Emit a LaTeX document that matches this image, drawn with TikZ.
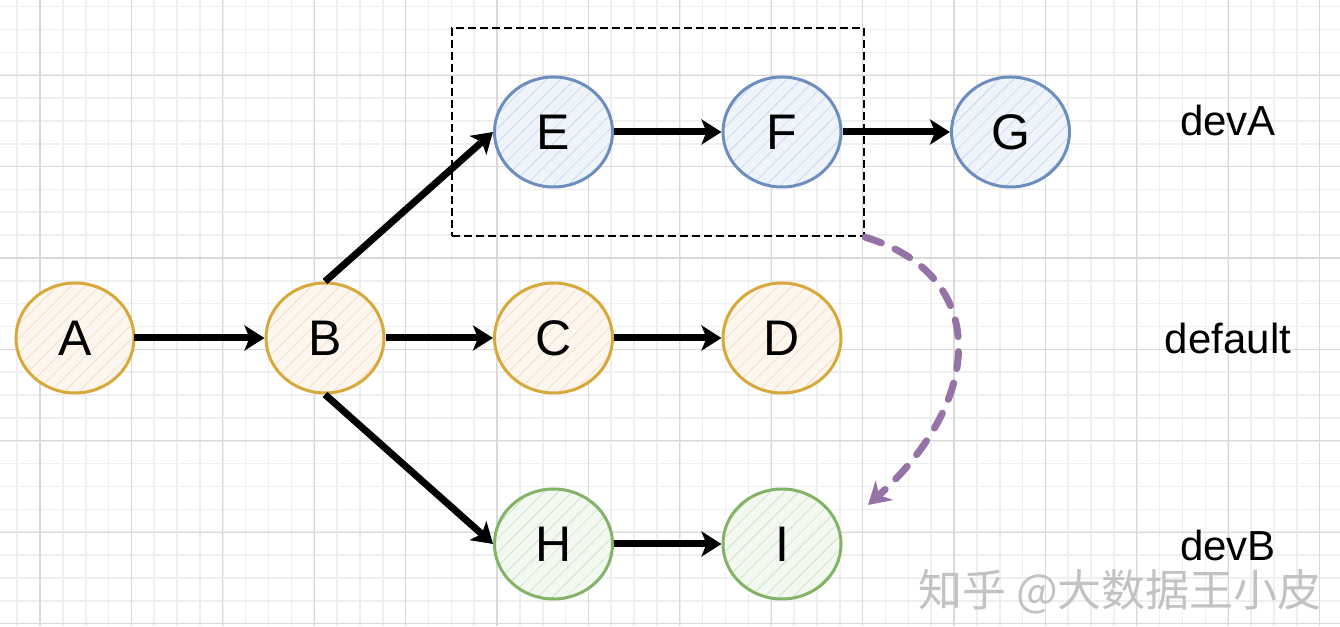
\documentclass[tikz,border=0pt]{standalone}
\usepackage{fontspec}
\setmainfont{Liberation Sans}
\newfontfamily\cjk{Noto Sans CJK SC}
\usetikzlibrary{positioning, arrows.meta, shapes.geometric, patterns.meta}

\definecolor{gridmaj}{HTML}{D9D9D9}
\definecolor{gridmin}{HTML}{EFEFEF}
\definecolor{gold}{HTML}{D6A93A}
\definecolor{goldfill}{HTML}{FDF6EE}
\definecolor{goldhatch}{HTML}{F2DEC6}
\definecolor{steel}{HTML}{6C8EBF}
\definecolor{steelfill}{HTML}{EFF4FB}
\definecolor{steelhatch}{HTML}{C9D8EE}
\definecolor{leaf}{HTML}{82B366}
\definecolor{leaffill}{HTML}{F3F8F0}
\definecolor{leafhatch}{HTML}{CFE3C6}
\definecolor{lilac}{HTML}{9673A6}
\definecolor{stampgray}{HTML}{C2C2C2}

\tikzset{
  commit/.style={ellipse, minimum width=118pt, minimum height=110pt, inner sep=0pt,
    line width=3pt, draw=#1, preaction={fill=#1fill},
    pattern={Lines[angle=45, distance=10pt, line width=0.8pt]}, pattern color=#1hatch,
    font=\fontsize{50}{60}\selectfont},
  branch/.style={font=\fontsize{42}{50}\selectfont},
  link/.style={line width=7pt, -{Stealth[length=20pt, width=25pt, inset=5pt]}},
  group/.style={draw, line width=2.5pt, dash pattern=on 8pt off 4pt,
    minimum width=412pt, minimum height=208pt},
  move/.style={draw=lilac, line width=7pt, line cap=round, dash pattern=on 17pt off 15pt,
    -{Stealth[length=22pt, width=26pt]}},
  stamp/.style={text=stampgray, font=\cjk\fontsize{44}{50}\selectfont}
}

\begin{document}
\begin{tikzpicture}[x=1pt, y=1pt, node distance=206pt and 228.5pt, on grid]
  \useasboundingbox (0,0) rectangle (1340,626);
  \fill[white] (0,0) rectangle (1340,626);
  \begin{scope}[shift={(40,2.4)}]
    \draw[gridmin, line width=1.6pt, step=22.85pt] (-40,-2.4) grid (1300,623.6);
    \draw[gridmaj, line width=1.1pt, step=91.4pt] (-40,-2.4) grid (1300,623.6);
  \end{scope}

  \node[commit=gold] (a) at (75,288) {A};
  \node[commit=gold] (b) [right=250pt of a] {B};
  \node[commit=gold] (c) [right=of b] {C};
  \node[commit=gold] (d) [right=of c] {D};
  \node[commit=steel] (e) [above=of c] {E};
  \node[commit=steel] (f) [above=of d] {F};
  \node[commit=steel] (g) [right=of f] {G};
  \node[commit=leaf] (h) [below=of c] {H};
  \node[commit=leaf] (i) [below=of d] {I};

  \node[branch] (la) at (1228,506) {devA};
  \node[branch] (ld) at (1228,288) {default};
  \node[branch] (lb) at (1228,81) {devB};

  \node[group] (grp) at (658,494) {};
  \coordinate (drop) at (868,121);

  \draw[link] (a) -- (b);
  \draw[link] (b) -- (c);
  \draw[link] (c) -- (d);
  \draw[link] (b.north) -- (e.west);
  \draw[link] (e) -- (f);
  \draw[link] (f) -- (g);
  \draw[link] (b.south) -- (h.west);
  \draw[link] (h) -- (i);
  \draw[move] (grp.south east) .. controls (990,351) and (985,226) .. (drop);

  \node[stamp] (wm) at (1120,34) {知乎 @大数据王小皮};
\end{tikzpicture}
\end{document}
